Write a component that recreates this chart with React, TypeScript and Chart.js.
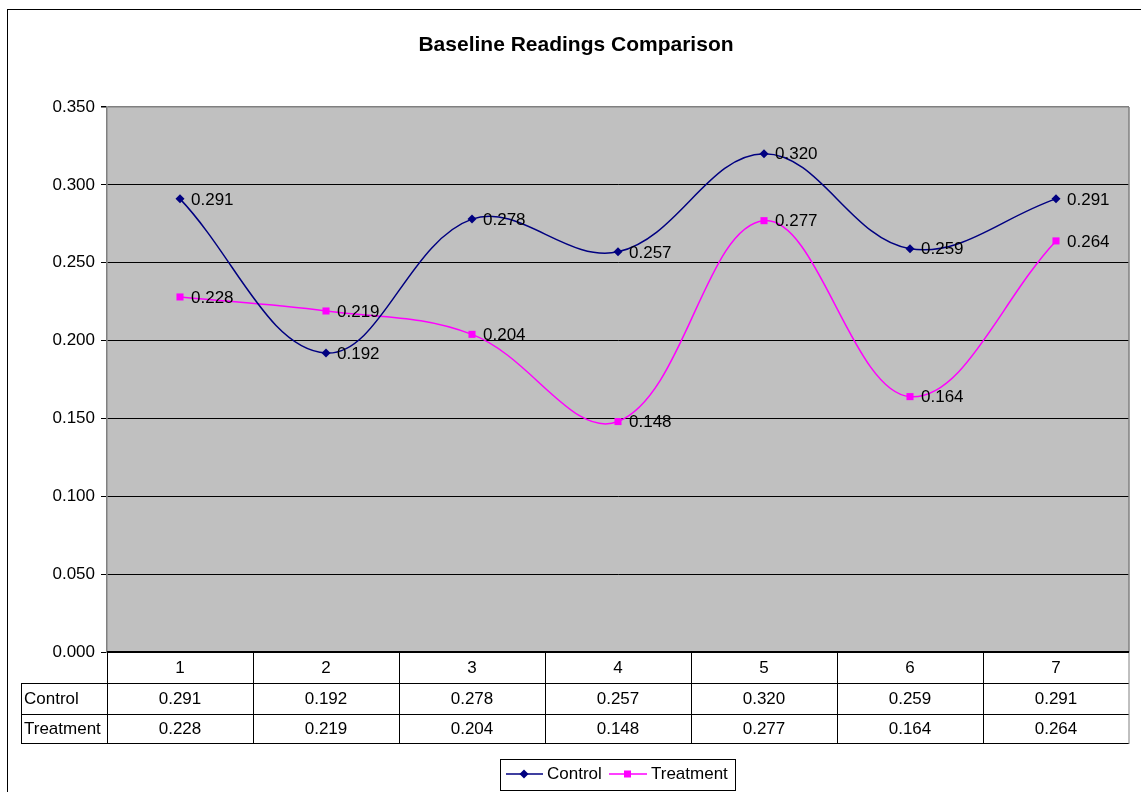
import React, { useEffect, useRef } from "react";
import { Chart, registerables } from "chart.js";

Chart.register(...registerables);

const TITLE = "Baseline Readings Comparison";
const categories = ["1", "2", "3", "4", "5", "6", "7"];
const controlValues = [0.291, 0.192, 0.278, 0.257, 0.32, 0.259, 0.291];
const treatmentValues = [0.228, 0.219, 0.204, 0.148, 0.277, 0.164, 0.264];
const seriesNames = ["Control", "Treatment"];
const yTicks = { min: 0, max: 0.35, step: 0.05 };

const FONT = "'Liberation Sans', Arial, sans-serif";
const NAVY = "#000080";
const MAGENTA = "#FF00FF";
const TXT = 17;

const decorPlugin = {
  id: "decor",
  beforeDraw(chart: any) {
    const { ctx, chartArea } = chart;
    ctx.save();
    ctx.fillStyle = "#ffffff";
    ctx.fillRect(0, 0, chart.width, chart.height);
    // outer border
    ctx.strokeStyle = "#000";
    ctx.lineWidth = 1;
    ctx.strokeRect(7.5, 9.5, 1300, 1000);
    // plot background
    ctx.fillStyle = "#C0C0C0";
    ctx.fillRect(chartArea.left, chartArea.top, chartArea.right - chartArea.left, chartArea.bottom - chartArea.top);
    // title
    ctx.fillStyle = "#000";
    ctx.font = `bold 21px ${FONT}`;
    ctx.textAlign = "center";
    ctx.textBaseline = "middle";
    ctx.fillText(TITLE, 576, 45);
    ctx.restore();
  },
  afterDatasetsDraw(chart: any) {
    const { ctx, chartArea } = chart;
    const xs = chart.scales.x;
    ctx.save();
    // right border of plot
    ctx.strokeStyle = "#808080";
    ctx.lineWidth = 1.5;
    ctx.beginPath();
    ctx.moveTo(chartArea.right, chartArea.top);
    ctx.lineTo(chartArea.right, chartArea.bottom);
    ctx.stroke();

    // data labels
    ctx.fillStyle = "#000";
    ctx.font = `${TXT}px ${FONT}`;
    ctx.textAlign = "left";
    ctx.textBaseline = "middle";
    chart.data.datasets.forEach((ds: any, di: number) => {
      const meta = chart.getDatasetMeta(di);
      meta.data.forEach((pt: any, i: number) => {
        ctx.fillText((ds.data[i] as number).toFixed(3), pt.x + 11, pt.y + 1);
      });
    });

    // data table
    const left = chartArea.left;
    const right = chartArea.right;
    const top = chartArea.bottom;
    const rowH = [31, 31, 29];
    const rowTop = [top, top + rowH[0], top + rowH[0] + rowH[1]];
    const tableBottom = rowTop[2] + rowH[2];
    const labelLeft = 21;
    const n = categories.length;
    const colW = (right - left) / n;

    ctx.strokeStyle = "#000";
    ctx.lineWidth = 1;
    ctx.beginPath();
    ctx.moveTo(labelLeft, rowTop[1] + 0.5);
    ctx.lineTo(right, rowTop[1] + 0.5);
    ctx.moveTo(labelLeft, rowTop[2] + 0.5);
    ctx.lineTo(right, rowTop[2] + 0.5);
    ctx.moveTo(labelLeft, tableBottom + 0.5);
    ctx.lineTo(right, tableBottom + 0.5);
    ctx.moveTo(labelLeft + 0.5, rowTop[1]);
    ctx.lineTo(labelLeft + 0.5, tableBottom);
    for (let i = 0; i < n; i++) {
      const x = Math.round(left + i * colW) + 0.5;
      ctx.moveTo(x, top);
      ctx.lineTo(x, tableBottom);
    }
    ctx.stroke();
    ctx.strokeStyle = "#808080";
    ctx.beginPath();
    ctx.moveTo(right, top);
    ctx.lineTo(right, tableBottom + 1);
    ctx.stroke();
    ctx.strokeStyle = "#000";
    ctx.lineWidth = 2;
    ctx.beginPath();
    ctx.moveTo(left, top);
    ctx.lineTo(right, top);
    ctx.stroke();

    ctx.fillStyle = "#000";
    ctx.font = `${TXT}px ${FONT}`;
    ctx.textBaseline = "middle";
    ctx.textAlign = "center";
    categories.forEach((c, i) => {
      const x = xs.getPixelForValue(i);
      ctx.fillText(c, x, rowTop[0] + rowH[0] / 2 + 1);
      ctx.fillText(controlValues[i].toFixed(3), x, rowTop[1] + rowH[1] / 2 + 1);
      ctx.fillText(treatmentValues[i].toFixed(3), x, rowTop[2] + rowH[2] / 2 + 1);
    });
    ctx.textAlign = "left";
    ctx.fillText(seriesNames[0], 24, rowTop[1] + rowH[1] / 2 + 1);
    ctx.fillText(seriesNames[1], 24, rowTop[2] + rowH[2] / 2 + 1);

    // legend
    const lx = 500, ly = 759, lw = 235, lh = 31;
    ctx.fillStyle = "#fff";
    ctx.fillRect(lx, ly, lw, lh);
    ctx.strokeStyle = "#000";
    ctx.lineWidth = 1;
    ctx.strokeRect(lx + 0.5, ly + 0.5, lw, lh);
    const cy = 774;
    ctx.strokeStyle = NAVY;
    ctx.lineWidth = 1.5;
    ctx.beginPath();
    ctx.moveTo(506, cy);
    ctx.lineTo(543, cy);
    ctx.stroke();
    ctx.fillStyle = NAVY;
    ctx.beginPath();
    ctx.moveTo(524, cy - 4.5);
    ctx.lineTo(528.5, cy);
    ctx.lineTo(524, cy + 4.5);
    ctx.lineTo(519.5, cy);
    ctx.closePath();
    ctx.fill();
    ctx.strokeStyle = MAGENTA;
    ctx.beginPath();
    ctx.moveTo(609, cy);
    ctx.lineTo(647, cy);
    ctx.stroke();
    ctx.fillStyle = MAGENTA;
    ctx.fillRect(624, cy - 3.5, 7, 7);
    ctx.fillStyle = "#000";
    ctx.font = `${TXT}px ${FONT}`;
    ctx.textAlign = "left";
    ctx.fillText(seriesNames[0], 547, cy);
    ctx.fillText(seriesNames[1], 651, cy);
    ctx.restore();
  },
};

export default function App() {
  const ref = useRef<HTMLCanvasElement | null>(null);
  useEffect(() => {
    if (!ref.current) return;
    const chart = new Chart(ref.current, {
      type: "line",
      data: {
        labels: categories,
        datasets: [
          {
            label: seriesNames[0],
            data: controlValues,
            borderColor: NAVY,
            backgroundColor: NAVY,
            borderWidth: 1.5,
            pointStyle: "rectRot",
            pointRadius: 4.5,
            pointBorderWidth: 0,
            tension: 0.38,
          },
          {
            label: seriesNames[1],
            data: treatmentValues,
            borderColor: MAGENTA,
            backgroundColor: MAGENTA,
            borderWidth: 1.5,
            pointStyle: "rect",
            pointRadius: 5,
            pointBorderWidth: 0,
            tension: 0.38,
          },
        ],
      },
      options: {
        responsive: false,
        animation: false,
        devicePixelRatio: 1,
        layout: { padding: { left: 7, right: 12, top: 107, bottom: 140 } },
        plugins: {
          legend: { display: false },
          title: { display: false },
          tooltip: { enabled: false },
        },
        scales: {
          x: {
            type: "category",
            display: false,
            offset: true,
          },
          y: {
            min: yTicks.min,
            max: yTicks.max,
            afterFit: (axis: any) => {
              axis.width = 100;
            },
            ticks: {
              stepSize: yTicks.step,
              color: "#000",
              font: { family: FONT, size: TXT },
              padding: 6,
              callback: (v: any) => Number(v).toFixed(3),
            },
            grid: {
              color: (c: any) => (c.tick && Math.abs(c.tick.value - yTicks.max) < 1e-9 ? "#808080" : "#000"),
              lineWidth: (c: any) => (c.tick && Math.abs(c.tick.value - yTicks.max) < 1e-9 ? 1.5 : 1),
              tickColor: "#000",
              tickLength: 6,
              drawTicks: true,
            },
            border: { display: true, color: "#808080", width: 1.5 },
          },
        },
      },
      plugins: [decorPlugin],
    });
    return () => chart.destroy();
  }, []);
  return (
    <canvas
      ref={ref}
      width={1141}
      height={792}
      style={{ position: "absolute", left: 0, top: 0, width: 1141, height: 792, display: "block" }}
    />
  );
}
